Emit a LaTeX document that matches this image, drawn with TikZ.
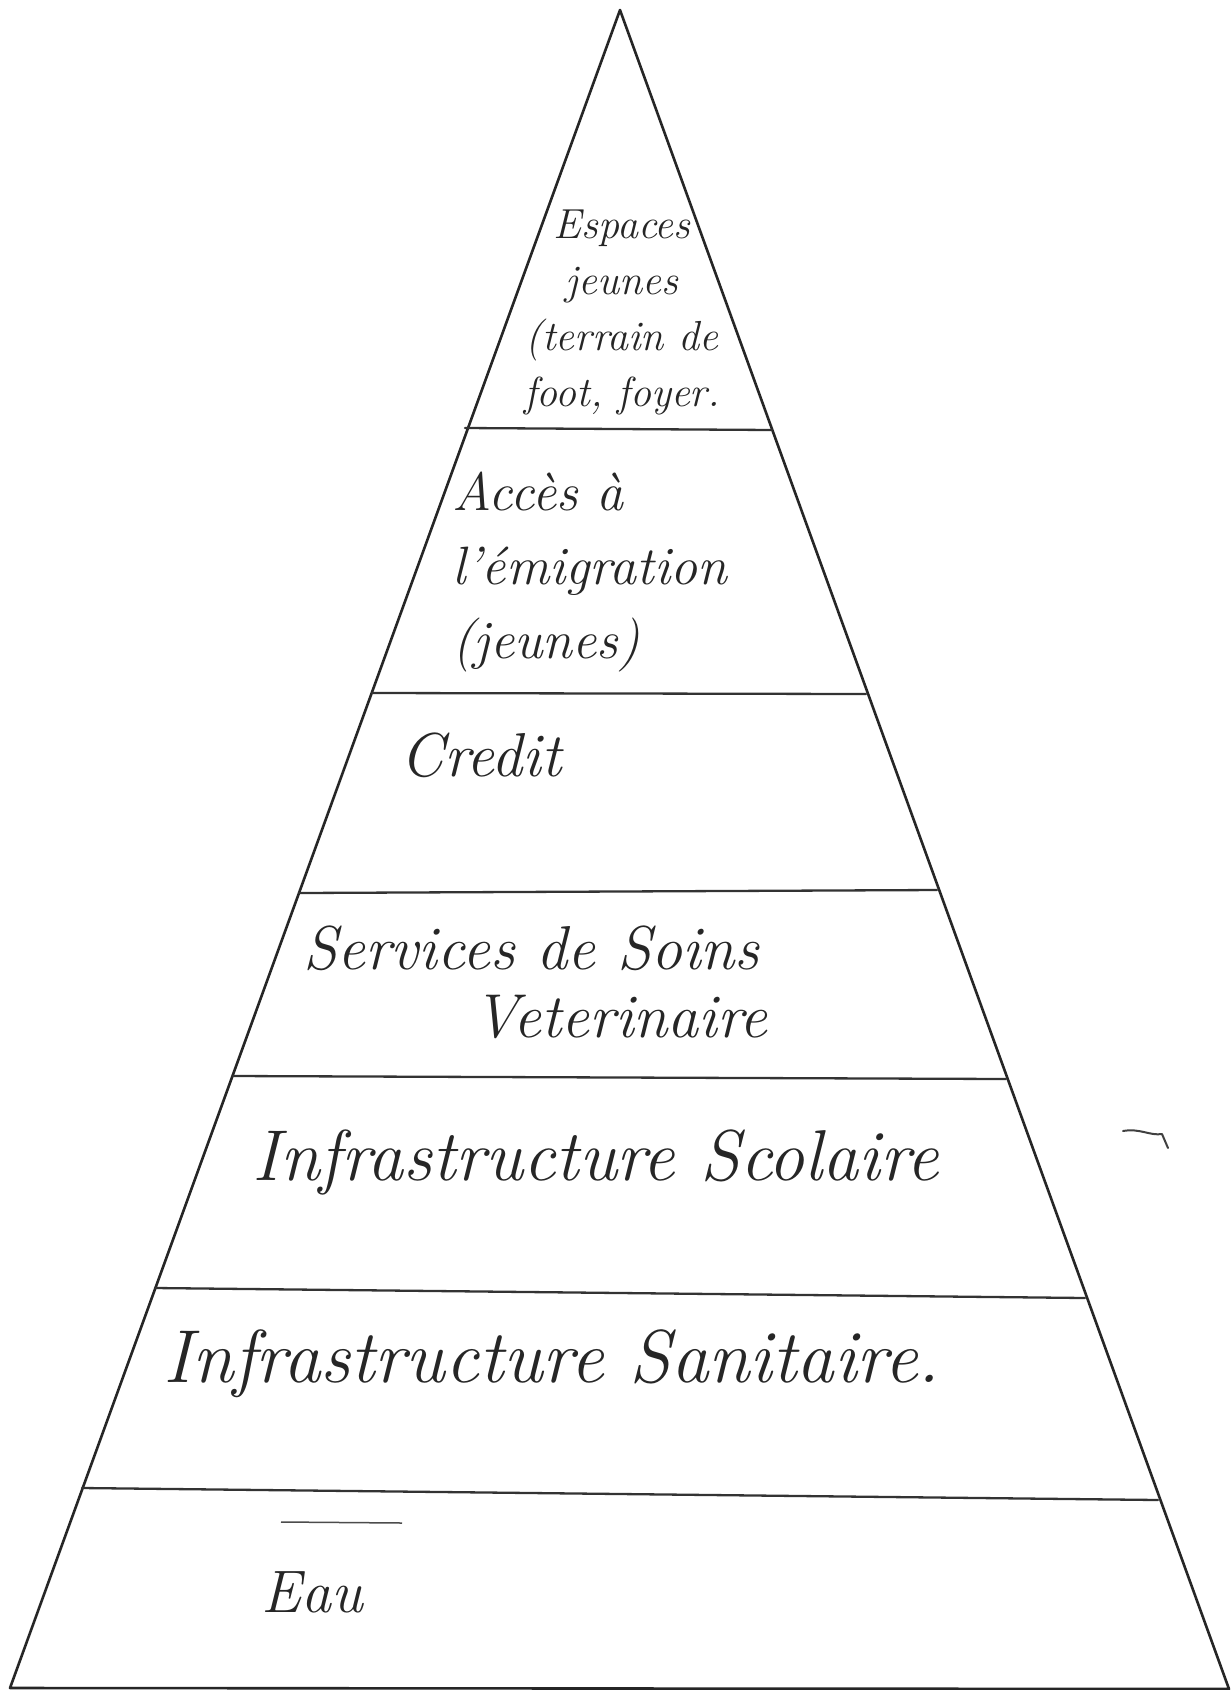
\documentclass[tikz,border=0pt]{standalone}
\begin{document}
\begin{tikzpicture}[x=1pt,y=-1pt,
  edge/.style={draw=black!85,line width=2.6pt,line cap=round,line join=round},
  sep/.style={draw=black!80,line width=2.3pt,line cap=round},
  hand/.style={inner sep=0pt,text=black!85,font=\itshape}]
\useasboundingbox[fill=white] (0,0) rectangle (1231,1690);
% corners of the pyramid
\coordinate (apex) at (620,10);
\coordinate (bl) at (10,1688);
\coordinate (br) at (1229,1689);
\draw[edge] (bl) -- (apex) -- (br) -- cycle;
% separating lines
\coordinate (l1a) at (465,428);  \coordinate (l1b) at (772,430);
\coordinate (l2a) at (372,693);  \coordinate (l2b) at (866,694);
\coordinate (l3a) at (299,893);  \coordinate (l3b) at (937,890);
\coordinate (l4a) at (233,1076); \coordinate (l4b) at (1006,1079);
\coordinate (l5a) at (155,1288); \coordinate (l5b) at (1085,1298);
\coordinate (l6a) at (82,1488);  \coordinate (l6b) at (1158,1500);
\foreach \i in {1,...,6}{\draw[sep] (l\i a) -- (l\i b);}
% texts
\node[hand,align=center,font=\itshape\fontsize{42}{56}\selectfont] (t1) at (622,312)
  {Espaces\\jeunes\\(terrain de\\foot, foyer.};
\node[hand,align=left,anchor=west,font=\itshape\fontsize{54}{74}\selectfont] (t2) at (452,572)
  {Accès à\\l'émigration\\(jeunes)};
\node[hand,font=\itshape\fontsize{62}{64}\selectfont] (t3) at (481,755) {Credit};
\node[hand,align=left,anchor=west,font=\itshape\fontsize{62}{68}\selectfont] (t4) at (303,982)
  {Services de Soins\\\hspace*{170pt}Veterinaire};
\node[hand,font=\itshape\fontsize{72}{74}\selectfont] (t5) at (596,1162) {Infrastructure Scolaire};
\node[hand,font=\itshape\fontsize{75}{77}\selectfont] (t6) at (552,1364) {Infrastructure Sanitaire.};
\node[hand,font=\itshape\fontsize{60}{62}\selectfont] (t7) at (312,1592) {Eau};
% stray strokes
\coordinate (s1) at (281,1522); \coordinate (s2) at (402,1523);
\draw[black!70,line width=1.5pt] (s1) -- (s2);
\coordinate (m1) at (1123,1131); \coordinate (m2) at (1162,1134); \coordinate (m3) at (1168,1148);
\draw[black!75,line width=2pt,line cap=round,line join=round] (m1) .. controls (1140,1128) and (1150,1136) .. (m2) -- (m3);
\end{tikzpicture}
\end{document}
